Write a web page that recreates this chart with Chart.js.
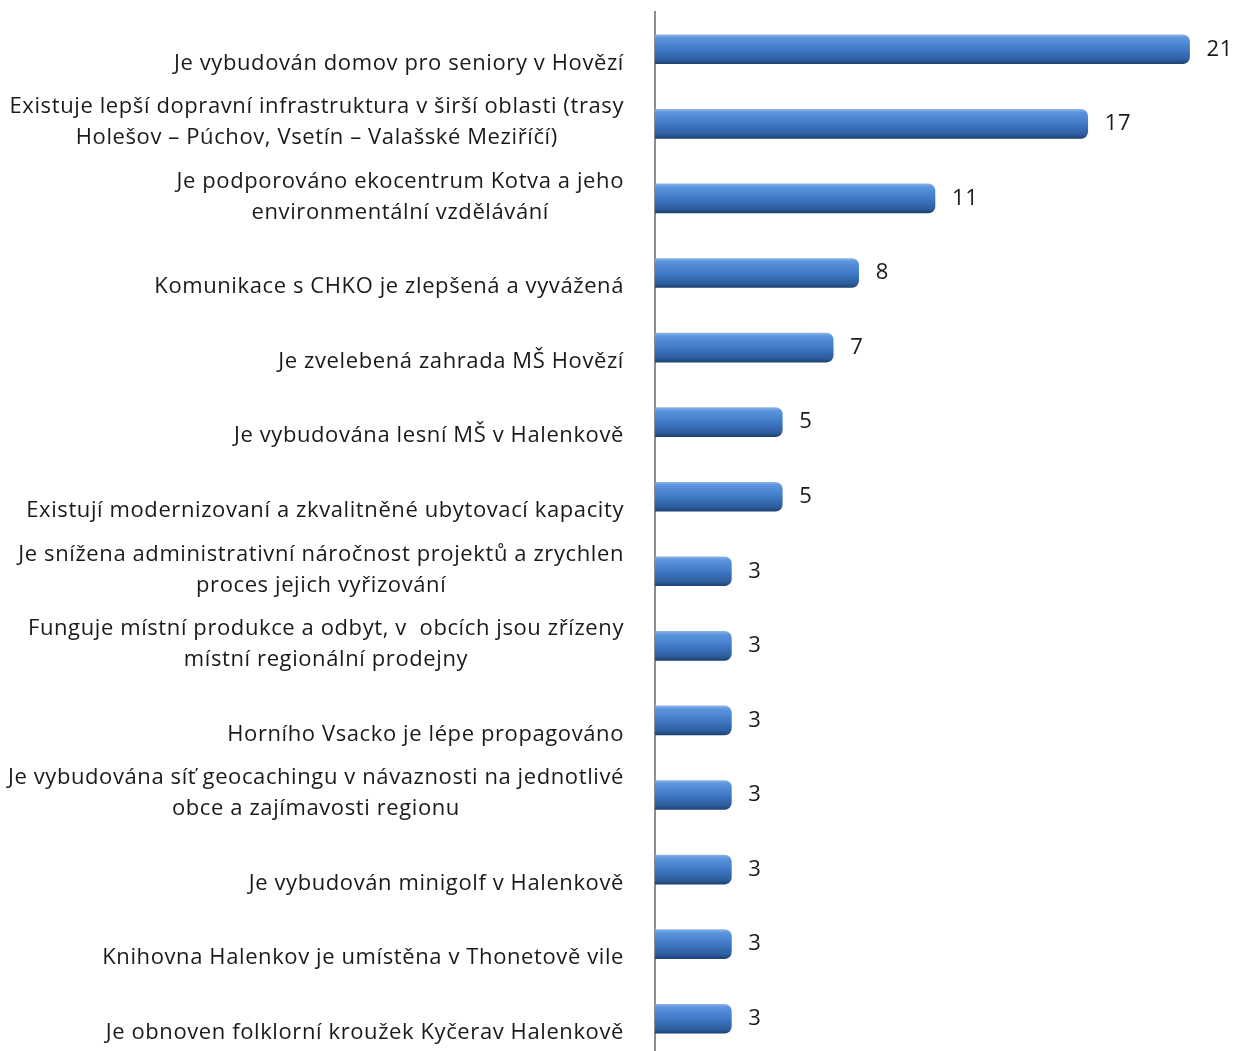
<!DOCTYPE html>
<html>
<head>
<meta charset="utf-8">
<script src="https://cdn.jsdelivr.net/npm/chart.js@4"></script>
<style>
  html, body { margin: 0; padding: 0; background: #fff; overflow: hidden; }
  #wrap { width: 1236px; height: 1056px; }
</style>
</head>
<body>
<div id="wrap"><canvas id="myChart" width="1236" height="1056"></canvas></div>
<script>
// categories (each line of a wrapped label is one item)
const categories = [
  ['Je vybudován domov pro seniory v Hovězí'],
  ['Existuje lepší dopravní infrastruktura v širší oblasti (trasy', 'Holešov – Púchov, Vsetín – Valašské Meziříčí)'],
  ['Je podporováno ekocentrum Kotva a jeho', 'environmentální vzdělávání'],
  ['Komunikace s CHKO je zlepšená a vyvážená'],
  ['Je zvelebená zahrada MŠ Hovězí'],
  ['Je vybudována lesní MŠ v Halenkově'],
  ['Existují modernizovaní a zkvalitněné ubytovací kapacity'],
  ['Je snížena administrativní náročnost projektů a zrychlen', 'proces jejich vyřizování'],
  ['Funguje místní produkce a odbyt, v  obcích jsou zřízeny', 'místní regionální prodejny'],
  ['Horního Vsacko je lépe propagováno'],
  ['Je vybudována síť geocachingu v návaznosti na jednotlivé', 'obce a zajímavosti regionu'],
  ['Je vybudován minigolf v Halenkově'],
  ['Knihovna Halenkov je umístěna v Thonetově vile'],
  ['Je obnoven folklorní kroužek Kyčerav Halenkově']
];
const values = [21, 17, 11, 8, 7, 5, 5, 3, 3, 3, 3, 3, 3, 3];

const FONT = '22px "Open Sans"';

function barFill(ctx) {
  const chart = ctx.chart;
  const y = chart.scales && chart.scales.y;
  if (!y || !chart.chartArea) return '#3c75c0';
  const c = y.getPixelForValue(ctx.dataIndex);
  const g = chart.ctx.createLinearGradient(0, c - 15, 0, c + 15);
  g.addColorStop(0, '#8fb6e8');
  g.addColorStop(0.12, '#5b95dd');
  g.addColorStop(0.5, '#4079c6');
  g.addColorStop(0.85, '#2d5d9e');
  g.addColorStop(1, '#1b3f6e');
  return g;
}

// category labels: lines centred in their block, block right-aligned, bottom-anchored
const labelPlugin = {
  id: 'catLabels',
  afterDraw(chart) {
    const ctx = chart.ctx;
    const y = chart.scales.y;
    ctx.save();
    ctx.font = FONT;
    ctx.letterSpacing = '0.6px';
    ctx.fillStyle = '#1a1a1a';
    ctx.textBaseline = 'middle';
    ctx.textAlign = 'center';
    categories.forEach((lines, i) => {
      const c = y.getPixelForValue(i);
      const w = Math.max(...lines.map(l => ctx.measureText(l).width));
      const cx = 624 - w / 2;
      const n = lines.length;
      lines.forEach((l, k) => {
        ctx.fillText(l, cx, c + 14 - (n - 1 - k) * 31);
      });
    });
    // value labels
    const meta = chart.getDatasetMeta(0);
    ctx.textAlign = 'left';
    meta.data.forEach((bar, i) => {
      ctx.fillText(String(values[i]), bar.x + 17, bar.y);
    });
    ctx.restore();
  }
};

new Chart(document.getElementById('myChart').getContext('2d'), {
  type: 'bar',
  data: {
    labels: categories,
    datasets: [{
      data: values,
      backgroundColor: barFill,
      borderWidth: 0,
      borderRadius: { topRight: 7, bottomRight: 7 },
      borderSkipped: false,
      barThickness: 29
    }]
  },
  options: {
    indexAxis: 'y',
    responsive: false,
    animation: false,
    layout: { padding: { top: 12, right: 21, bottom: 0, left: 0 } },
    plugins: { legend: { display: false }, tooltip: { enabled: false } },
    scales: {
      x: {
        min: 0, max: 22,
        display: false
      },
      y: {
        grid: { display: false },
        border: { display: true, color: '#8c8c8c', width: 2 },
        ticks: { display: false },
        afterFit(scale) { scale.width = 655; }
      }
    }
  },
  plugins: [labelPlugin]
});
</script>
</body>
</html>
